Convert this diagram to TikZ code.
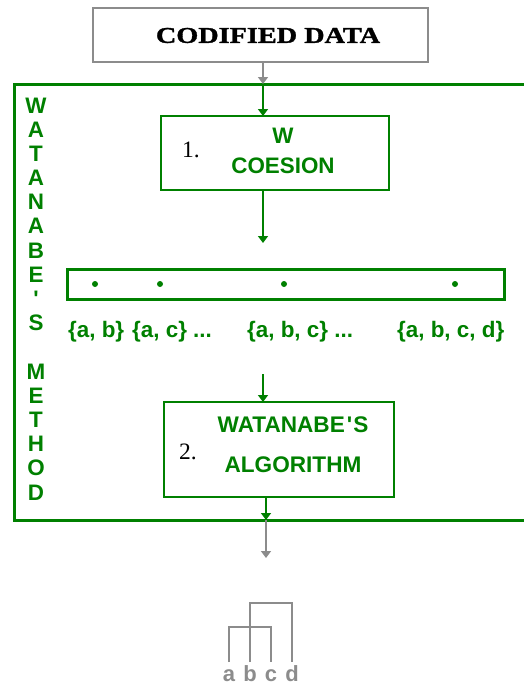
\documentclass[tikz,border=0pt]{standalone}
\usepackage{fontspec}
\setmainfont{Liberation Serif}
\setsansfont{Liberation Sans}
\newfontfamily\headfont[FakeStretch=1.25,FakeBold=1.5]{Liberation Serif}
\usetikzlibrary{arrows.meta}
\definecolor{wgreen}{RGB}{0,128,0}
\definecolor{wgray}{RGB}{140,140,140}
\tikzset{
  >={Triangle[width=10pt,length=7pt]},
  gtext/.style={text=wgreen,font=\sffamily\bfseries\fontsize{22.4}{30}\selectfont},
  stepbox/.style={draw=wgreen,line width=1.2pt,fill=white},
  num/.style={font=\fontsize{23.5}{24}\selectfont},
  leaf/.style={text=wgray,font=\sffamily\bfseries\fontsize{22}{22}\selectfont,
    anchor=north,inner sep=3pt,text height=16pt,text depth=0pt}
}
\begin{document}
\begin{tikzpicture}[x=1pt,y=-1pt]
\useasboundingbox (0,0) rectangle (523,685);
\path
    [outer sep=0pt,inner sep=0pt,anchor=north west]
    (14,84) node [draw=wgreen,line width=3pt,minimum width=520pt,minimum height=436pt] (method) {}
    (93,8) node [draw=wgray,line width=2pt,minimum width=335pt,minimum height=54pt] (data) {}
    (161,116) node [stepbox,minimum width=228pt,minimum height=74pt] (cohesion) {}
    (67,269) node [draw=wgreen,line width=3pt,minimum width=437pt,minimum height=30pt] (row) {}
    (164,402) node [stepbox,minimum width=230pt,minimum height=95pt] (algorithm) {};
\node [font=\headfont\bfseries\fontsize{22.6}{24}\selectfont] (datatext) at (268,35.5) {CODIFIED DATA};

\foreach \ch [count=\i] in {W,A,T,A,N,A,B,E,{\textquotesingle},S,{},M,E,T,H,O,D}
    \node [gtext,anchor=base] (v\i) at (36,113+24.19*\i-24.19) {\ch};

\node [num] (n1) at (191,150) {1.};
\node [gtext,align=center] (step1) at (283,150.5) {W\\COESION};
\node [num] (n2) at (188,451.5) {2.};
\node [gtext,align=center,font=\sffamily\bfseries\fontsize{22.6}{40}\selectfont] (step2) at (293,445)
    {WATANABE\kern2pt\textquotesingle\kern1pt S\\ALGORITHM};

\foreach \x [count=\i] in {95,160,284,455}
    \node [circle,fill=wgreen,inner sep=0pt,minimum size=6pt] (dot\i) at (\x,284) {};
\path
    [gtext,anchor=base west,inner sep=0pt]
    (68,337) node (set1) {\{a, b\}}
    (132,337) node (set2) {\{a, c\} ...}
    (247,337) node (set3) {\{a, b, c\} ...}
    (397,337) node (set4) {\{a, b, c, d\}};

\coordinate (axis) at (263,0);
\coordinate (axis2) at (266,0);
\coordinate (gap1) at (263,243);
\coordinate (gap2) at (263,374);
\coordinate (out) at (266,558);
\draw [wgray,line width=1.5pt,->] (data.south -| axis) -- (method.north -| axis);
\draw [wgreen,line width=1.5pt,->] (method.north -| axis) -- (cohesion.north -| axis);
\draw [wgreen,line width=1.5pt,->] (cohesion.south -| axis) -- (gap1);
\draw [wgreen,line width=1.5pt,->] (gap2) -- (algorithm.north -| axis);
\draw [wgreen,line width=1.5pt,->] (algorithm.south -| axis2) -- (method.south -| axis2);
\draw [wgray,line width=1.5pt,->] (method.south -| axis2) -- (out);

\path
    (229,662) node [leaf] (la) {a}
    (250,662) node [leaf] (lb) {b}
    (271,662) node [leaf] (lc) {c}
    (292,662) node [leaf] (ld) {d};
\draw [wgray,line width=2pt] (la.north) -- ++(0,-35) -| (lc.north);
\draw [wgray,line width=2pt] (lb.north) -- ++(0,-59) -| (ld.north);
\end{tikzpicture}
\end{document}
